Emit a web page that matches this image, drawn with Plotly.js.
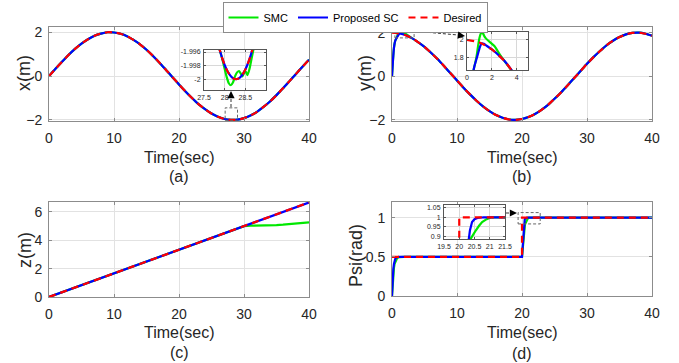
<!DOCTYPE html>
<html>
<head>
<meta charset="utf-8">
<script src="https://cdn.plot.ly/plotly-3.0.1.min.js"></script>
<style>html,body{margin:0;padding:0;background:#fff;}#chart{width:679px;height:363px;}</style>
</head>
<body>
<div id="chart"></div>
<script>
// ---------- data ----------
const t = [0,1,2,3,4,5,6,7,8,9,10,11,12,13,14,15,16,17,18,19,20,21,22,23,24,25,26,27,28,29,30,31,32,33,34,35,36,37,38,39,40];
const xDesired = [0,0.33,0.65,0.96,1.24,1.48,1.68,1.84,1.94,2.00,1.99,1.93,1.82,1.65,1.45,1.20,0.92,0.61,0.28,-0.05,-0.38,-0.70,-1.00,-1.28,-1.51,-1.71,-1.86,-1.96,-2.00,-1.99,-1.92,-1.80,-1.63,-1.41,-1.16,-0.87,-0.56,-0.23,0.10,0.43,0.75];
const yDesired = [2.00,1.97,1.89,1.76,1.57,1.35,1.08,0.79,0.47,0.14,-0.19,-0.52,-0.83,-1.12,-1.38,-1.60,-1.78,-1.90,-1.98,-2.00,-1.96,-1.87,-1.73,-1.54,-1.31,-1.03,-0.74,-0.42,-0.09,0.24,0.57,0.88,1.16,1.42,1.63,1.80,1.92,1.99,2.00,1.95,1.86];

// start-up transients of y (before they join the desired curve at t = 3)
const yProposedStartT = [0,0.1,0.2,0.3,0.4,0.5,0.6,0.7,0.8,0.9,1.0,1.1,1.2,1.35,1.5,2,2.5];
const yProposedStart  = [0,0.5,0.95,1.3,1.5,1.63,1.7,1.75,1.8,1.85,1.9,1.94,1.96,1.955,1.94,1.89,1.83];
const ySMCStartT = [0,0.1,0.2,0.3,0.4,0.5,0.6,0.7,0.8,0.9,1.0,1.1,1.2,1.3,1.4,1.5,1.8,2.2,2.6];
const ySMCStart  = [0,0.5,0.95,1.3,1.5,1.63,1.7,1.76,1.84,1.94,2.02,2.07,2.085,2.07,2.04,2.02,1.98,1.93,1.84];

// zoom of x near its minimum
const xZoomT = [27.85,27.9,27.95,28.0,28.05,28.1,28.15,28.2,28.25,28.3,28.35,28.4,28.45,28.5,28.55,28.6,28.65,28.7];
const xZoomDesired = [-1.99501,-1.99611,-1.99708,-1.99791,-1.99861,-1.99916,-1.99957,-1.99985,-1.99998,-1.99998,-1.99984,-1.99956,-1.99914,-1.99858,-1.99788,-1.99705,-1.99607,-1.99496];
const xZoomSMCT = [27.88,27.95,28.0,28.05,28.1,28.15,28.2,28.25,28.3,28.35,28.4,28.43,28.47,28.51,28.55,28.6,28.65,28.7];
const xZoomSMC  = [-1.9957,-1.9972,-1.9985,-1.9997,-2.0006,-2.0009,-2.0005,-1.9996,-1.999,-1.9988,-1.9993,-1.9996,-1.9991,-1.9989,-1.9994,-1.9985,-1.997,-1.9955];

// z
const zT = [0,10,20,30,40];
const zDesired = [0,1.667,3.333,5.0,6.667];
const zSMCT = [0,10,20,30,31,32,33,34,35,36,37,38,39,40];
const zSMC  = [0,1.667,3.333,5.0,5.03,5.03,5.04,5.05,5.07,5.10,5.14,5.18,5.22,5.26];

// psi
const psiDesiredT = [0,20,20,40];
const psiDesired  = [0.5,0.5,1,1];
const psiProposedT = [0,0.05,0.1,0.2,0.3,0.4,0.5,0.7,1.0,1.5,20,20.1,20.2,20.3,20.35,20.42,20.5,20.6,20.8,40];
const psiProposed  = [0,0.12,0.22,0.34,0.41,0.45,0.475,0.492,0.499,0.5,0.5,0.62,0.76,0.885,0.93,0.975,0.99,0.996,1.0,1.0];
const psiSMCT = [0,0.05,0.1,0.2,0.3,0.4,0.6,0.8,1.2,1.8,20,20.1,20.2,20.3,20.37,20.45,20.54,20.65,20.75,20.9,21.05,40];
const psiSMC  = [0,0.09,0.17,0.28,0.36,0.41,0.46,0.485,0.497,0.5,0.5,0.6,0.72,0.84,0.885,0.91,0.93,0.955,0.975,0.99,1.0,1.0];

const seriesNames = ['SMC','Proposed SC','Desired'];
const xTickVals = [0,10,20,30,40];

// ---------- build ----------
const tail = (arrT, arrV, from) => {
  const tt = [], vv = [];
  arrT.forEach((v,i)=>{ if (v >= from) { tt.push(v); vv.push(arrV[i]); } });
  return [tt, vv];
};
const [yTailT, yTailV] = tail(t, yDesired, 3);
const yProposedT = yProposedStartT.concat(yTailT), yProposed = yProposedStart.concat(yTailV);
const ySMCT = ySMCStartT.concat(yTailT), ySMC = ySMCStart.concat(yTailV);

const GREEN = '#00e800', BLUE = '#0000ff', RED = '#ff0000';
const W = 2.2;
function set(xa, ya, tg, vg, tb, vb, tr, vr, legend, shape) {
  const sh = shape || 'spline';
  return [
    {x: tg, y: vg, xaxis: xa, yaxis: ya, type: 'scatter', mode: 'lines', name: seriesNames[0], showlegend: legend,
     line: {color: GREEN, width: W, shape: sh, smoothing: 0.6}},
    {x: tb, y: vb, xaxis: xa, yaxis: ya, type: 'scatter', mode: 'lines', name: seriesNames[1], showlegend: legend,
     line: {color: BLUE, width: W, shape: sh, smoothing: 0.6}},
    {x: tr, y: vr, xaxis: xa, yaxis: ya, type: 'scatter', mode: 'lines', name: seriesNames[2], showlegend: legend,
     line: {color: RED, width: W, dash: '7px,5px', shape: sh, smoothing: 0.6}}
  ];
}

const data = [].concat(
  set('x','y', t, xDesired, t, xDesired, t, xDesired, true),
  set('x2','y2', ySMCT, ySMC, yProposedT, yProposed, t, yDesired, false),
  set('x3','y3', zSMCT, zSMC, zT, zDesired, zT, zDesired, false, 'linear'),
  set('x4','y4', psiSMCT, psiSMC, psiProposedT, psiProposed, psiDesiredT, psiDesired, false, 'linear'),
  set('x5','y5', xZoomSMCT, xZoomSMC, xZoomT, xZoomDesired, xZoomT, xZoomDesired, false),
  set('x6','y6', ySMCT, ySMC, yProposedT, yProposed, t, yDesired, false),
  set('x7','y7', psiSMCT, psiSMC, psiProposedT, psiProposed, psiDesiredT, psiDesired, false, 'linear')
);

const FONT = 'Liberation Sans, Arial, Helvetica, sans-serif';
const TXT = '#262626';
const px = v => v / 679, py = v => 1 - v / 363;

function mainX(dom, anchor) {
  return {domain: dom, anchor: anchor, range: [0,40], tickvals: xTickVals, showgrid: true, gridcolor: '#e2e2e2',
    zeroline: false, showline: true, linecolor: '#8c8c8c', linewidth: 1, mirror: 'ticks', ticks: 'inside', ticklen: 3,
    tickcolor: '#8c8c8c', tickfont: {size: 14, color: TXT, family: FONT}, ticklabelstandoff: 4};
}
function mainY(dom, anchor, range, tv) {
  return {domain: dom, anchor: anchor, range: range, tickvals: tv, showgrid: true, gridcolor: '#e2e2e2',
    zeroline: false, showline: true, linecolor: '#8c8c8c', linewidth: 1, mirror: 'ticks', ticks: 'inside', ticklen: 3,
    tickcolor: '#8c8c8c', tickfont: {size: 14, color: TXT, family: FONT}, ticklabelstandoff: 3};
}
function insetAx(dom, anchor, range, tv, tt) {
  return {domain: dom, anchor: anchor, range: range, tickvals: tv, ticktext: tt, showgrid: true, gridcolor: '#d8d8d8',
    zeroline: false, showline: true, linecolor: '#555', linewidth: 1, mirror: 'ticks', ticks: 'inside', ticklen: 2,
    tickcolor: '#555', tickfont: {size: 7, color: TXT, family: FONT}, ticklabelstandoff: 1};
}

const domXL = [px(49), px(309)], domXR = [px(392), px(652)];
const domYT = [py(121), py(27)], domYB = [py(297), py(202)];
const domYBd = [py(296), py(202)];

const layout = {
  width: 679, height: 363, margin: {l: 0, r: 0, t: 0, b: 0},
  paper_bgcolor: '#fff', plot_bgcolor: '#fff',
  font: {family: FONT, color: TXT},
  showlegend: true,
  legend: {orientation: 'h', x: px(355), xanchor: 'center', y: py(2), yanchor: 'top',
    bgcolor: '#fff', bordercolor: '#8c8c8c', borderwidth: 1, font: {size: 11, color: '#000', family: FONT},
    itemwidth: 30, tracegroupgap: 0},
  xaxis: mainX(domXL, 'y'), yaxis: mainY(domYT, 'x', [-2.05, 2.24], [-2,0,2]),
  xaxis2: mainX(domXR, 'y2'), yaxis2: mainY(domYT, 'x2', [-2.05, 2.26], [-2,0,2]),
  xaxis3: mainX(domXL, 'y3'), yaxis3: mainY(domYB, 'x3', [0, 6.7], [0,2,4,6]),
  xaxis4: mainX(domXR, 'y4'), yaxis4: mainY(domYBd, 'x4', [0, 1.2], [0,0.5,1]),
  xaxis5: insetAx([px(204), px(266)], 'y5', [27.5, 29], [27.5,28,28.5], ['27.5','28','28.5']),
  yaxis5: insetAx([py(90), py(50)], 'x5', [-2.0016, -1.9957], [-2,-1.998,-1.996], ['-2','-1.998','-1.996']),
  xaxis6: insetAx([px(467), px(528)], 'y6', [0, 4.9], [0,2,4], ['0','2','4']),
  yaxis6: insetAx([py(70), py(32)], 'x6', [1.655, 2.09], [1.8,2], ['1.8','2']),
  xaxis7: insetAx([px(444), px(505)], 'y7', [19.5, 21.5], [19.5,20,20.5,21,21.5], ['19.5','20','20.5','21','21.5']),
  yaxis7: insetAx([py(239), py(205)], 'x7', [0.885, 1.065], [0.9,0.95,1,1.05], ['0.9','0.95','1','1.05']),
  shapes: [
    // white backgrounds of the zoom windows
    {type: 'rect', xref: 'x5', yref: 'y5', x0: 27.5, x1: 29, y0: -2.0016, y1: -1.9957, layer: 'below', fillcolor: '#fff', line: {width: 0}},
    {type: 'rect', xref: 'x6', yref: 'y6', x0: 0, x1: 4.9, y0: 1.655, y1: 2.09, layer: 'below', fillcolor: '#fff', line: {width: 0}},
    {type: 'rect', xref: 'x7', yref: 'y7', x0: 19.5, x1: 21.5, y0: 0.885, y1: 1.065, layer: 'below', fillcolor: '#fff', line: {width: 0}},
    // dashed zoom boxes
    {type: 'rect', xref: 'x', yref: 'y', x0: 27.1, x1: 29.0, y0: -2.02, y1: -1.45, line: {color: '#666', width: 1, dash: '3px,2px'}},
    {type: 'rect', xref: 'x2', yref: 'y2', x0: 0.45, x1: 3.4, y0: 1.76, y1: 2.2, line: {color: '#666', width: 1, dash: '3px,2px'}},
    {type: 'rect', xref: 'x4', yref: 'y4', x0: 19.4, x1: 22.8, y0: 0.92, y1: 1.065, line: {color: '#666', width: 1, dash: '3px,2px'}},
    // dashed arrow shafts
    {type: 'line', xref: 'paper', yref: 'paper', x0: px(231), y0: py(107), x1: px(231), y1: py(95), line: {color: '#333', width: 1, dash: '3px,2px'}},
    {type: 'line', xref: 'paper', yref: 'paper', x0: px(413), y0: py(31), x1: px(458), y1: py(35), line: {color: '#333', width: 1, dash: '3px,2px'}},
    {type: 'line', xref: 'paper', yref: 'paper', x0: px(506), y0: py(213), x1: px(512), y1: py(213), line: {color: '#333', width: 1, dash: '3px,2px'}}
  ],
  annotations: [
    // arrow heads
    {xref: 'paper', yref: 'paper', x: px(231), y: py(91), ax: 0, ay: 7, text: '', showarrow: true, arrowhead: 2, arrowsize: 1.2, arrowwidth: 1.2, arrowcolor: '#000'},
    {xref: 'paper', yref: 'paper', x: px(465), y: py(36), ax: -8, ay: -1, text: '', showarrow: true, arrowhead: 2, arrowsize: 1.2, arrowwidth: 1.2, arrowcolor: '#000'},
    {xref: 'paper', yref: 'paper', x: px(517), y: py(213), ax: -7, ay: 0, text: '', showarrow: true, arrowhead: 2, arrowsize: 1.2, arrowwidth: 1.2, arrowcolor: '#000'},
    // axis titles
    {xref: 'paper', yref: 'paper', x: px(179), y: py(157), text: 'Time(sec)', showarrow: false, xanchor: 'center', yanchor: 'middle', font: {size: 16, color: TXT}},
    {xref: 'paper', yref: 'paper', x: px(522), y: py(157), text: 'Time(sec)', showarrow: false, xanchor: 'center', yanchor: 'middle', font: {size: 16, color: TXT}},
    {xref: 'paper', yref: 'paper', x: px(179), y: py(332), text: 'Time(sec)', showarrow: false, xanchor: 'center', yanchor: 'middle', font: {size: 16, color: TXT}},
    {xref: 'paper', yref: 'paper', x: px(522), y: py(332), text: 'Time(sec)', showarrow: false, xanchor: 'center', yanchor: 'middle', font: {size: 16, color: TXT}},
    {xref: 'paper', yref: 'paper', x: px(179), y: py(177), text: '(a)', showarrow: false, xanchor: 'center', yanchor: 'middle', font: {size: 16, color: TXT}},
    {xref: 'paper', yref: 'paper', x: px(522), y: py(177), text: '(b)', showarrow: false, xanchor: 'center', yanchor: 'middle', font: {size: 16, color: TXT}},
    {xref: 'paper', yref: 'paper', x: px(179), y: py(352), text: '(c)', showarrow: false, xanchor: 'center', yanchor: 'middle', font: {size: 16, color: TXT}},
    {xref: 'paper', yref: 'paper', x: px(522), y: py(353), text: '(d)', showarrow: false, xanchor: 'center', yanchor: 'middle', font: {size: 16, color: TXT}},
    {xref: 'paper', yref: 'paper', x: px(24), y: py(73), text: 'x(m)', textangle: -90, showarrow: false, xanchor: 'center', yanchor: 'middle', font: {size: 18, color: TXT}},
    {xref: 'paper', yref: 'paper', x: px(365), y: py(73), text: 'y(m)', textangle: -90, showarrow: false, xanchor: 'center', yanchor: 'middle', font: {size: 18, color: TXT}},
    {xref: 'paper', yref: 'paper', x: px(25), y: py(250), text: 'z(m)', textangle: -90, showarrow: false, xanchor: 'center', yanchor: 'middle', font: {size: 18, color: TXT}},
    {xref: 'paper', yref: 'paper', x: px(356), y: py(256), text: 'Psi(rad)', textangle: -90, showarrow: false, xanchor: 'center', yanchor: 'middle', font: {size: 18, color: TXT}}
  ]
};

Plotly.newPlot('chart', data, layout, {displayModeBar: false, staticPlot: true});
</script>
</body>
</html>
